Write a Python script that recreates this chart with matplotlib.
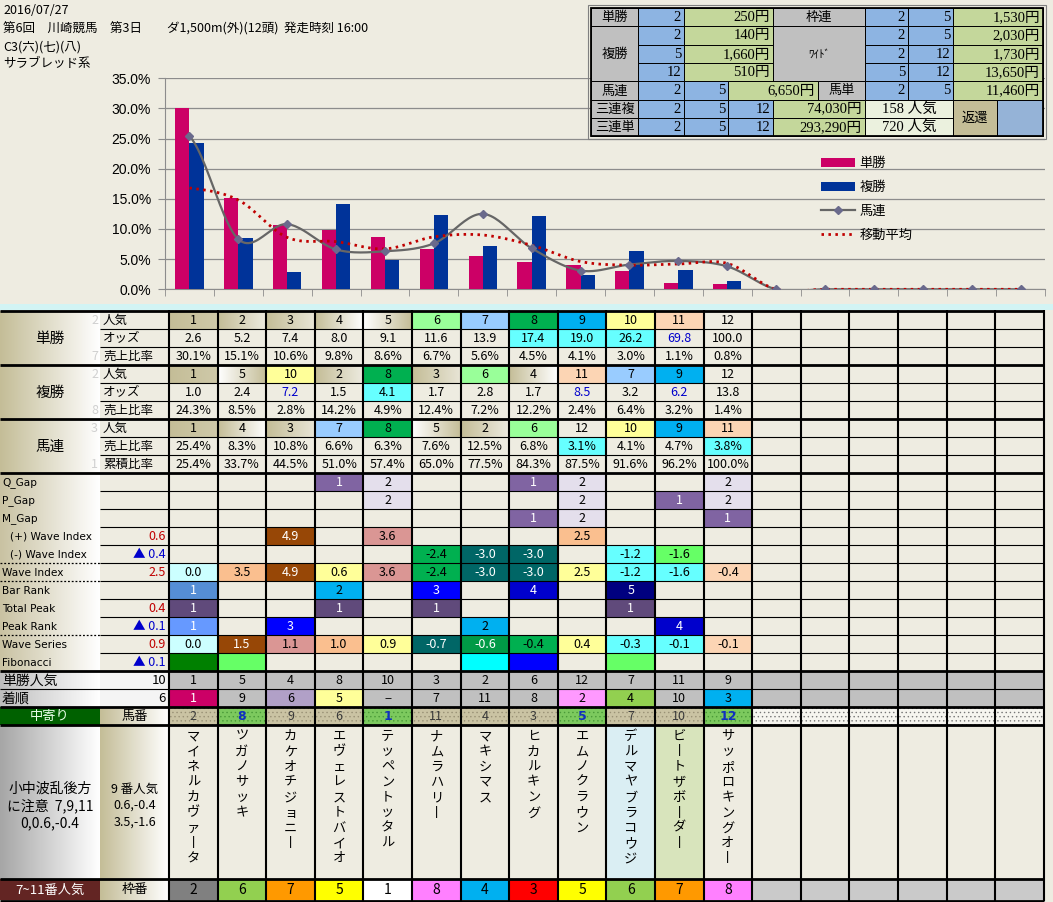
import numpy as np
import matplotlib
matplotlib.use('Agg')
import matplotlib.pyplot as plt
import matplotlib.colors as mcolors
from matplotlib.patches import Rectangle, Patch
from matplotlib.lines import Line2D

plt.rcParams['font.family'] = ['Noto Sans CJK JP', 'DejaVu Sans']
plt.rcParams['hatch.linewidth'] = 0.5

# ---------------- data ----------------
race_date = '2016/07/27'
race_title = '第6回　川崎競馬　第3日　　ダ1,500m(外)(12頭)  発走時刻 16:00'
race_class = 'C3(六)(七)(八)'
race_breed = 'サラブレッド系'

pop_rank = [1, 2, 3, 4, 5, 6, 7, 8, 9, 10, 11, 12]
tan_odds = [2.6, 5.2, 7.4, 8.0, 9.1, 11.6, 13.9, 17.4, 19.0, 26.2, 69.8, 100.0]
tan_share = [30.1, 15.1, 10.6, 9.8, 8.6, 6.7, 5.6, 4.5, 4.1, 3.0, 1.1, 0.8]
fuku_rank = [1, 5, 10, 2, 8, 3, 6, 4, 11, 7, 9, 12]
fuku_odds = [1.0, 2.4, 7.2, 1.5, 4.1, 1.7, 2.8, 1.7, 8.5, 3.2, 6.2, 13.8]
fuku_share = [24.3, 8.5, 2.8, 14.2, 4.9, 12.4, 7.2, 12.2, 2.4, 6.4, 3.2, 1.4]
umaren_rank = [1, 4, 3, 7, 8, 5, 2, 6, 12, 10, 9, 11]
umaren_share = [25.4, 8.3, 10.8, 6.6, 6.3, 7.6, 12.5, 6.8, 3.1, 4.1, 4.7, 3.8]
umaren_cum = [25.4, 33.7, 44.5, 51.0, 57.4, 65.0, 77.5, 84.3, 87.5, 91.6, 96.2, 100.0]
umaren_empty = [0, 0, 0, 0, 0, 0]          # chart slots 13-18
moving_avg = [16.8, 14.8, 8.6, 7.9, 6.7, 8.7, 9.0, 7.3, 4.6, 4.0, 4.2, 4.3,
              0, 0, 0, 0, 0, 0]

q_gap = [None, None, None, 1, 2, None, None, 1, 2, None, None, 2]
p_gap = [None, None, None, None, 2, None, None, None, 2, None, 1, 2]
m_gap = [None, None, None, None, None, None, None, 1, 2, None, None, 1]
wave_plus = [None, None, 4.9, None, 3.6, None, None, None, 2.5, None, None, None]
wave_minus = [None, None, None, None, None, -2.4, -3.0, -3.0, None, -1.2, -1.6, None]
wave_index = [0.0, 3.5, 4.9, 0.6, 3.6, -2.4, -3.0, -3.0, 2.5, -1.2, -1.6, -0.4]
bar_rank = [1, None, None, 2, None, 3, None, 4, None, 5, None, None]
total_peak = [1, None, None, 1, None, 1, None, None, None, 1, None, None]
peak_rank = [1, None, 3, None, None, None, 2, None, None, None, 4, None]
wave_series = [0.0, 1.5, 1.1, 1.0, 0.9, -0.7, -0.6, -0.4, 0.4, -0.3, -0.1, -0.1]
label_values = {'(+) Wave Index': '0.6', '(-) Wave Index': '▲ 0.4', 'Wave Index': '2.5',
                'Total Peak': '0.4', 'Peak Rank': '▲ 0.1', 'Wave Series': '0.9',
                'Fibonacci': '▲ 0.1'}

tan_pop = [1, 5, 4, 8, 10, 3, 2, 6, 12, 7, 11, 9]
tan_pop_label = '10'
finish = ['1', '9', '6', '5', '−', '7', '11', '8', '2', '4', '10', '3']
finish_label = '6'
umaban = [2, 8, 9, 6, 1, 11, 4, 3, 5, 7, 10, 12]
names = ['マイネルカヴァータ', 'ツガノサッキ', 'カケオチジョニー', 'エヴェレストバイオ',
         'テッペントッタル', 'ナムラハリー', 'マキシマス', 'ヒカルキング', 'エムノクラウン',
         'デルマヤブラコウジ', 'ビートザボーダー', 'サッポロキングオー']
waku = [2, 6, 7, 5, 1, 8, 4, 3, 5, 6, 7, 8]
note_left = ['小中波乱後方', 'に注意  7,9,11', '0,0.6,-0.4']
note_right = ['9 番人気', '0.6,-0.4', '3.5,-1.6']

pay_tansho = ('2', '250円')
pay_fukusho = [('2', '140円'), ('5', '1,660円'), ('12', '510円')]
pay_wakuren = ('2', '5', '1,530円')
pay_wide = [('2', '5', '2,030円'), ('2', '12', '1,730円'), ('5', '12', '13,650円')]
pay_umaren = ('2', '5', '6,650円')
pay_umatan = ('2', '5', '11,460円')
pay_sanrenpuku = ('2', '5', '12', '74,030円', '158 人気')
pay_sanrentan = ('2', '5', '12', '293,290円', '720 人気')

# ---------------- styles ----------------
W, H = 1053, 902
BG = '#EEECE1'
TAN = '#C4BD97'
RANK_BG = {6: '#99FF99', 7: '#99CCFF', 8: '#00B050', 9: '#00B0F0', 10: '#FFFF99', 11: '#FCD5B4'}
RANK_GRAD = {1: (TAN, '#CFC9A9'), 2: (TAN, '#EDEBE0'), 3: (TAN, '#E8E5D6'),
             4: (TAN, '#FFFFFF'), 5: ('#FFFFFF', TAN)}
CYAN_CELLS = {(1, 7), (1, 8), (1, 9), (4, 4), (7, 8), (7, 11)}
BLUE_TEXT = {(1, 10), (4, 2), (4, 8), (4, 10)}
GAP_BG = {1: '#8064A2', 2: '#E4DFEC'}
WP_BG = [None, None, '#974706', None, '#DA9694', None, None, None, '#FABF8F', None, None, None]
WM_BG = [None, None, None, None, None, '#00B050', '#006666', '#006666', None, '#66FFFF', '#66FF66', None]
WI_BG = ['#CCFFFF', '#FABF8F', '#974706', '#FFFF99', '#DA9694', '#00B050', '#006666', '#006666',
         '#FFFF99', '#66FFFF', '#66FFFF', '#FCD5B4']
BR_BG = {1: '#558ED5', 2: '#00B0F0', 3: '#0000FF', 4: '#0000CC', 5: '#000080'}
TP_BG = '#604A7B'
PR_BG = {1: '#6699FF', 2: '#00B0F0', 3: '#0000FF', 4: '#0000CC'}
WS_BG = ['#CCFFFF', '#974706', '#DA9694', '#FABF8F', '#FFFF99', '#006666', '#009A46', '#00B050',
         '#FFFF99', '#66FFFF', '#66FFFF', '#FCD5B4']
FIB_BG = ['#008000', '#66FF66', None, None, None, None, '#00FFFF', '#0000FF', None, '#66FF66', None, None]
DARK = {'#974706', '#006666', '#558ED5', '#0000FF', '#0000CC', '#000080', '#604A7B', '#8064A2',
        '#6699FF', '#009A46', '#CC0066'}
FIN_BG = {'1': '#CC0066', '2': '#FF99FF', '3': '#00B0F0', '4': '#92D050', '5': '#FFFF99', '6': '#B1A0C7'}
UMABAN_HI = [False, True, False, False, True, False, False, False, True, False, False, True]
NAME_BG = [None] * 9 + ['#DAEEF3', '#D8E4BC', None]
WAKU_BG = {1: '#FFFFFF', 2: '#808080', 3: '#FF0000', 4: '#00B0F0', 5: '#FFFF00', 6: '#92D050',
           7: '#FF9900', 8: '#FF80FF'}

fig = plt.figure(figsize=(W / 100, H / 100), dpi=100)
fig.patch.set_facecolor(BG)

# ---------------- chart ----------------
AX_L, AX_R, AX_T, AX_B = 165, 1045, 78.2, 289.3
ax = fig.add_axes([AX_L / W, 1 - AX_B / H, (AX_R - AX_L) / W, (AX_B - AX_T) / H], zorder=1)
ax.set_facecolor(BG)
n_cat = 18
xs = np.arange(n_cat)
bw = 0.29


def smooth(x, y, n=24):
    x = np.asarray(x, float)
    y = np.asarray(y, float)
    px = np.concatenate([[2 * x[0] - x[1]], x, [2 * x[-1] - x[-2]]])
    py = np.concatenate([[y[0]], y, [y[-1]]])
    t = np.linspace(0, 1, n, endpoint=False)
    ox, oy = [], []
    for i in range(1, len(px) - 2):
        for P, O in ((px, ox), (py, oy)):
            p0, p1, p2, p3 = P[i - 1], P[i], P[i + 1], P[i + 2]
            O.extend(0.5 * (2 * p1 + (-p0 + p2) * t + (2 * p0 - 5 * p1 + 4 * p2 - p3) * t ** 2
                            + (-p0 + 3 * p1 - 3 * p2 + p3) * t ** 3))
    ox.append(x[-1])
    oy.append(y[-1])
    return np.array(ox), np.array(oy)


ax.bar(xs[:12] - bw, tan_share, width=bw, align='edge', color='#CC0066', zorder=3)
ax.bar(xs[:12], fuku_share, width=bw, align='edge', color='#003399', zorder=3)
umaren_chart = umaren_share + umaren_empty
sx, sy = smooth(xs, umaren_chart)
ax.plot(sx, sy, color='#666666', lw=1.6, zorder=4)
ax.plot(xs, umaren_chart, ls='none', marker='D', ms=4.5, color='#6A6A8C', zorder=5)
mx, my = smooth(xs, moving_avg)
ax.plot(mx, my, color='#C00000', lw=2.0, ls=(0, (0.9, 1.6)), zorder=4)

ax.set_xlim(-0.5, n_cat - 0.5)
ax.set_ylim(0, 35)
ax.set_yticks(np.arange(0, 36, 5))
ax.set_yticklabels([f'{v:.1f}%' for v in np.arange(0, 36, 5)], fontfamily='Liberation Sans', fontsize=10)
ax.set_xticks([])
ax.set_xticks(np.arange(-0.5, n_cat, 1), minor=True)
ax.tick_params(axis='x', which='minor', direction='out', length=5, color='#8C8C8C', labelbottom=False)
ax.tick_params(axis='y', direction='out', length=5, color='#8C8C8C', pad=5)
ax.yaxis.grid(True, color='#8C8C8C', lw=0.9)
ax.set_axisbelow(True)
for s in ('top', 'right'):
    ax.spines[s].set_visible(False)
for s in ('left', 'bottom'):
    ax.spines[s].set_color('#8C8C8C')

handles = [Patch(facecolor='#CC0066', label='単勝'),
           Patch(facecolor='#003399', label='複勝'),
           Line2D([], [], color='#666666', lw=1.6, marker='D', ms=4.5, mfc='#6A6A8C', mec='#6A6A8C', label='馬連'),
           Line2D([], [], color='#C00000', lw=2.0, ls=(0, (0.9, 1.6)), label='移動平均')]
ax.legend(handles=handles, loc='upper left', bbox_to_anchor=(821 / W, 1 - 157 / H),
          bbox_transform=fig.transFigure, frameon=False, fontsize=9.5, handlelength=2.6,
          handletextpad=0.3, labelspacing=0.82, borderaxespad=0, borderpad=0)

# ---------------- overlay (sheet) ----------------
ov = fig.add_axes([0, 0, 1, 1], zorder=5)
ov.patch.set_alpha(0)
ov.axis('off')


def to_rgb(c):
    return np.array(mcolors.to_rgb(c))


def rect(x0, y0, x1, y1, fc, z=1, **kw):
    ov.add_patch(Rectangle((x0, y0), x1 - x0, y1 - y0, facecolor=fc, edgecolor='none', zorder=z, **kw))


def grad(x0, y0, x1, y1, c0, c1, z=1):
    a, b = to_rgb(c0), to_rgb(c1)
    t = np.linspace(0, 1, 128)[None, :, None]
    ov.imshow(a + (b - a) * t, extent=(x0, x1, y1, y0), aspect='auto', zorder=z, interpolation='bilinear')


def T(x, y, s, size=9, color='black', ha='center', family=None, weight='normal', z=5):
    kw = {'family': family} if family else {}
    ov.text(x, y, s, fontsize=size, color=color, ha=ha, va='center', zorder=z, fontweight=weight, **kw)


def hline(y, x0, x1, lw, ls='-', color='black'):
    ov.plot([x0, x1], [y, y], color=color, lw=lw, ls=ls, zorder=3, solid_capstyle='butt')


def vline(x, y0, y1, lw, color='black'):
    ov.plot([x, x], [y0, y1], color=color, lw=lw, zorder=3, solid_capstyle='butt')


# header text
T(3, 11, race_date, size=9, ha='left')
T(3, 29, race_title, size=9, ha='left')
T(3, 47, race_class, size=9, ha='left')
T(3, 64, race_breed, size=9, ha='left')

X0, CW = 169.0, 48.6


def cx0(k):
    return X0 + CW * k


def ccx(k):
    return X0 + CW * (k + 0.5)


XR = cx0(18)


def ry(i):
    return 311 + 18 * i


rect(0, 304, W, 309.5, '#D2F4F4')

# top section
groups = [('単勝', 0, ['人気', 'オッズ', '売上比率'], ['2', '', '7']),
          ('複勝', 3, ['人気', 'オッズ', '売上比率'], ['2', '', '8']),
          ('馬連', 6, ['人気', '売上比率', '累積比率'], ['3', '', '1'])]
for name, i0, subs, faint in groups:
    grad(0, ry(i0), 100, ry(i0 + 3), TAN, '#FFFFFF')
    T(50, (ry(i0) + ry(i0 + 3)) / 2 + 1, name, size=10.5)
    for j, (s, f) in enumerate(zip(subs, faint)):
        T(103, ry(i0 + j) + 9.5, s, size=9, ha='left')
        if f:
            T(98, ry(i0 + j) + 9.5, f, size=9, color='#D0D0D0', ha='right')

top_data = [pop_rank, tan_odds, tan_share, fuku_rank, fuku_odds, fuku_share,
            umaren_rank, umaren_share, umaren_cum]
top_kind = ['rank', 'odds', 'pct', 'rank', 'odds', 'pct', 'rank', 'pct', 'pct']
for i, (vals, kind) in enumerate(zip(top_data, top_kind)):
    y0, y1 = ry(i), ry(i + 1)
    for k, v in enumerate(vals):
        x0, x1 = cx0(k), cx0(k + 1)
        color = 'black'
        if kind == 'rank':
            if v in RANK_BG:
                rect(x0, y0, x1, y1, RANK_BG[v])
            elif v in RANK_GRAD:
                grad(x0, y0, x1, y1, *RANK_GRAD[v])
            s = str(v)
        else:
            if (i, k) in CYAN_CELLS:
                rect(x0, y0, x1, y1, '#66FFFF')
            if (i, k) in BLUE_TEXT:
                color = '#0000CC'
            s = f'{v:.1f}%' if kind == 'pct' else f'{v:.1f}'
        T(ccx(k), y0 + 9.5, s, color=color)

# analysis rows
grad(0, ry(9), 100, ry(20), '#C9C2A2', '#FFFFFF')
gap_labels = ['Q_Gap', 'P_Gap', 'M_Gap', '(+) Wave Index', '(-) Wave Index', 'Wave Index',
              'Bar Rank', 'Total Peak', 'Peak Rank', 'Wave Series', 'Fibonacci']
for j, lab in enumerate(gap_labels):
    y0, y1 = ry(9 + j), ry(10 + j)
    yc = y0 + 9.5
    indent = 10 if lab.startswith('(') else 2
    T(indent, yc, lab, size=7.6, ha='left', family='DejaVu Sans')
    lv = label_values.get(lab)
    if lv:
        T(166, yc, lv, size=9, ha='right', color='#0000CC' if '▲' in lv else '#C00000')

    def put(k, bg, s):
        x0, x1 = cx0(k), cx0(k + 1)
        if bg:
            rect(x0, y0, x1, y1, bg)
        if s is not None:
            T(ccx(k), yc, s, color='white' if bg in DARK else 'black')

    for k in range(12):
        if lab in ('Q_Gap', 'P_Gap', 'M_Gap'):
            v = {'Q_Gap': q_gap, 'P_Gap': p_gap, 'M_Gap': m_gap}[lab][k]
            if v is not None:
                put(k, GAP_BG[v], str(v))
        elif lab == '(+) Wave Index':
            if wave_plus[k] is not None:
                put(k, WP_BG[k], f'{wave_plus[k]:.1f}')
        elif lab == '(-) Wave Index':
            if wave_minus[k] is not None:
                put(k, WM_BG[k], f'{wave_minus[k]:.1f}')
        elif lab == 'Wave Index':
            put(k, WI_BG[k], f'{wave_index[k]:.1f}')
        elif lab == 'Bar Rank':
            if bar_rank[k] is not None:
                put(k, BR_BG[bar_rank[k]], str(bar_rank[k]))
        elif lab == 'Total Peak':
            if total_peak[k] is not None:
                put(k, TP_BG, str(total_peak[k]))
        elif lab == 'Peak Rank':
            if peak_rank[k] is not None:
                put(k, PR_BG[peak_rank[k]], str(peak_rank[k]))
        elif lab == 'Wave Series':
            put(k, WS_BG[k], f'{wave_series[k]:.1f}')
        elif lab == 'Fibonacci':
            if FIB_BG[k]:
                put(k, FIB_BG[k], None)

# 単勝人気 / 着順
for r, (lab, lv, vals) in enumerate([('単勝人気', tan_pop_label, [str(v) for v in tan_pop]),
                                     ('着順', finish_label, finish)]):
    y0, y1 = ry(20 + r), ry(21 + r)
    grad(0, y0, 100, y1, '#BDBDBD', '#FFFFFF')
    rect(100, y0, 169, y1, '#F4F4F4')
    T(2, y0 + 9.5, lab, size=10, ha='left')
    T(166, y0 + 9.5, lv, size=9.5, ha='right')
    for k in range(18):
        rect(cx0(k), y0, cx0(k + 1), y1, '#C0C0C0')
    for k, s in enumerate(vals):
        bg = FIN_BG.get(s) if r == 1 else None
        if bg:
            rect(cx0(k), y0, cx0(k + 1), y1, bg)
        T(ccx(k), y0 + 9.5, s, color='white' if bg in DARK else 'black')

# 馬番 row
y0, y1 = 707, 725
rect(0, y0, 100, y1, '#006100')
T(50, 716.5, '中寄り', size=9.5, color='#E8FFE8')
grad(100, y0, 169, y1, TAN, '#FFFFFF')
T(134.5, 716.5, '馬番', size=9.5)
for k in range(18):
    x0, x1 = cx0(k), cx0(k + 1)
    if k < 12:
        hi = UMABAN_HI[k]
        fc, dc = ('#7CC95E', '#4A9A38') if hi else ('#CAC3A3', '#9A9276')
    else:
        fc, dc = '#F6F5EF', '#777777'
    rect(x0, y0, x1, y1, fc)
    ov.add_patch(Rectangle((x0, y0), x1 - x0, y1 - y0, facecolor='none', edgecolor=dc, lw=0,
                           hatch='....', zorder=1.5))
    if k < 12:
        if UMABAN_HI[k]:
            T(ccx(k), 716.5, str(umaban[k]), size=9, color='#1030C0', weight='bold', family='DejaVu Sans')
        else:
            T(ccx(k), 716.5, str(umaban[k]), size=9, color='#3A3A3A')

# names area
y0, y1 = 725, 879
grad(0, y0, 100, y1, '#A6A6A6', '#FFFFFF')
grad(100, y0, 169, y1, TAN, '#FFFFFF')
for j, s in enumerate(note_left):
    T(50, 789 + 17 * j, s, size=10)
for j, s in enumerate(note_right):
    T(135, 789 + 16.5 * j, s, size=9)
for k, nm in enumerate(names):
    if NAME_BG[k]:
        rect(cx0(k), y0, cx0(k + 1), y1, NAME_BG[k])
    for j, ch in enumerate(nm):
        ch = '丨' if ch == 'ー' else ch
        T(ccx(k), 736.5 + 15.3 * j, ch, size=9.5)

# 枠番 row
y0, y1 = 879, 900
rect(0, y0, 100, y1, '#632523')
T(50, 890, '7~11番人気', size=9.5, color='white')
grad(100, y0, 169, y1, TAN, '#FFFFFF')
T(134.5, 890, '枠番', size=9.5)
for k in range(18):
    x0, x1 = cx0(k), cx0(k + 1)
    if k < 12:
        rect(x0, y0, x1, y1, WAKU_BG[waku[k]])
        T(ccx(k), 890, str(waku[k]), size=10)
    else:
        rect(x0, y0, x1, y1, '#CACACA')

# grid lines
for k in range(19):
    vline(cx0(k), 310, 901, 1.5)
for y in (311, 365, 419, 473, 671, 707, 725, 879, 900.5):
    hline(y, 0, XR, 2.0)
for i in (1, 2, 4, 5, 7, 8) + tuple(range(10, 20)):
    hline(ry(i), 100, XR, 0.8)
hline(689, 0, XR, 0.8)
for i in (14, 15, 18):
    hline(ry(i), 0, 100, 0.9, ls=(0, (1.5, 1.5)))

# ---------------- payout table ----------------
PX = [591, 638, 684, 728, 773, 818, 865, 908, 953, 997, 1043]
PY = [8 + 18.3 * i for i in range(8)]
P_GRAY, P_BLUE, P_GREEN, P_LG, P_TAN, P_BLUE2 = '#C0C0C0', '#8DB4E2', '#C4D79B', '#EBF1DE', '#C4BD97', '#95B3D7'
SERIF = ['Liberation Serif', 'Noto Sans CJK JP']


def pcell(c0, c1, r0, r1, fc, text='', ha='center', serif=False, size=10.5):
    x0, x1, y0, y1 = PX[c0], PX[c1], PY[r0], PY[r1]
    ov.add_patch(Rectangle((x0, y0), x1 - x0, y1 - y0, facecolor=fc, edgecolor='black', lw=0.7, zorder=6))
    if text:
        x = x1 - 3 if ha == 'right' else (x0 + x1) / 2
        fam = SERIF if serif else ['Noto Sans CJK JP', 'DejaVu Sans']
        ov.text(x, (y0 + y1) / 2 + 0.5, text, ha=ha, va='center', fontsize=size, family=fam, zorder=7)


pcell(0, 1, 0, 1, P_GRAY, '単勝', size=9.5)
pcell(1, 2, 0, 1, P_BLUE, pay_tansho[0], 'right', True)
pcell(2, 4, 0, 1, P_GREEN, pay_tansho[1], 'right', True)
pcell(4, 6, 0, 1, P_GRAY, '枠連', size=9.5)
pcell(6, 7, 0, 1, P_BLUE, pay_wakuren[0], 'right', True)
pcell(7, 8, 0, 1, P_BLUE, pay_wakuren[1], 'right', True)
pcell(8, 10, 0, 1, P_GREEN, pay_wakuren[2], 'right', True)
pcell(0, 1, 1, 4, P_GRAY, '複勝', size=9.5)
pcell(4, 6, 1, 4, P_GRAY, 'ﾜｲﾄﾞ', size=8)
for j in range(3):
    pcell(1, 2, 1 + j, 2 + j, P_BLUE, pay_fukusho[j][0], 'right', True)
    pcell(2, 4, 1 + j, 2 + j, P_GREEN, pay_fukusho[j][1], 'right', True)
    pcell(6, 7, 1 + j, 2 + j, P_BLUE, pay_wide[j][0], 'right', True)
    pcell(7, 8, 1 + j, 2 + j, P_BLUE, pay_wide[j][1], 'right', True)
    pcell(8, 10, 1 + j, 2 + j, P_GREEN, pay_wide[j][2], 'right', True)
pcell(0, 1, 4, 5, P_GRAY, '馬連', size=9.5)
pcell(1, 2, 4, 5, P_BLUE, pay_umaren[0], 'right', True)
pcell(2, 3, 4, 5, P_BLUE, pay_umaren[1], 'right', True)
pcell(3, 5, 4, 5, P_GREEN, pay_umaren[2], 'right', True)
pcell(5, 6, 4, 5, P_GRAY, '馬単', size=9.5)
pcell(6, 7, 4, 5, P_BLUE, pay_umatan[0], 'right', True)
pcell(7, 8, 4, 5, P_BLUE, pay_umatan[1], 'right', True)
pcell(8, 10, 4, 5, P_GREEN, pay_umatan[2], 'right', True)
for r, (lab, pay) in enumerate([('三連複', pay_sanrenpuku), ('三連単', pay_sanrentan)]):
    rr = 5 + r
    pcell(0, 1, rr, rr + 1, P_GRAY, lab, size=9.5)
    pcell(1, 2, rr, rr + 1, P_BLUE, pay[0], 'right', True)
    pcell(2, 3, rr, rr + 1, P_BLUE, pay[1], 'right', True)
    pcell(3, 4, rr, rr + 1, P_BLUE, pay[2], 'right', True)
    pcell(4, 6, rr, rr + 1, P_GREEN, pay[3], 'right', True)
    pcell(6, 8, rr, rr + 1, P_LG, pay[4], 'center', True)
pcell(8, 9, 5, 7, P_TAN, '返還', size=9.5)
pcell(9, 10, 5, 7, P_BLUE2)
ov.add_patch(Rectangle((PX[0], PY[0]), PX[-1] - PX[0], PY[-1] - PY[0], fill=False,
                       edgecolor='black', lw=1.3, zorder=8))
ov.add_patch(Rectangle((PX[0] - 3, PY[0] - 3), PX[-1] - PX[0] + 6, PY[-1] - PY[0] + 6, fill=False,
                       edgecolor='#808080', lw=0.8, zorder=8))

ov.set_xlim(0, W)
ov.set_ylim(H, 0)
fig.savefig('out.png', dpi=100, facecolor=BG)
